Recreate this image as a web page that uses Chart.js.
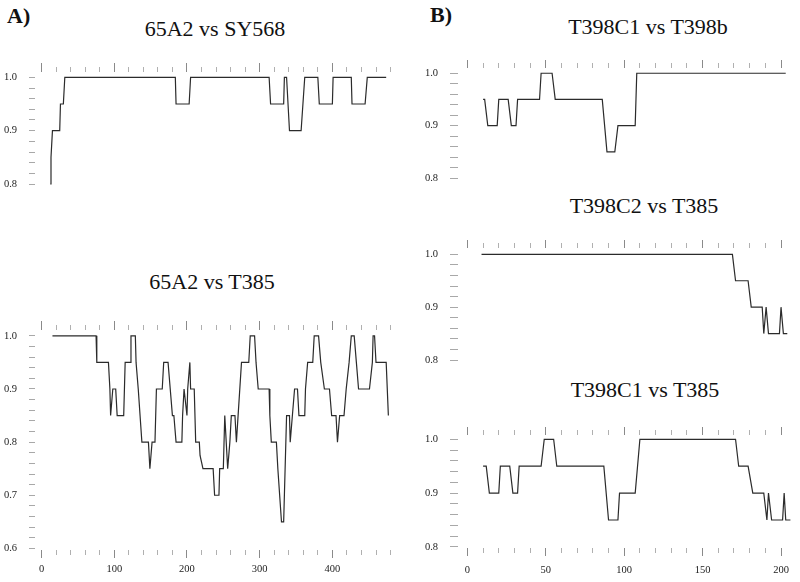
<!DOCTYPE html>
<html>
<head>
<meta charset="utf-8">
<script src="https://cdn.jsdelivr.net/npm/chart.js@4/dist/chart.umd.min.js"></script>
<style>
    html, body { margin: 0; padding: 0; background: #fff; }
    #page { position: relative; width: 800px; height: 582px; overflow: hidden; font-family: "Liberation Serif", serif; color: #111; }
    canvas { position: absolute; }
    .title { position: absolute; font-size: 22px; line-height: 22px; white-space: nowrap; transform: translateX(-50%); }
    .tag { position: absolute; font-size: 22px; line-height: 22px; font-weight: bold; }
</style>
</head>
<body>
<div id="page">
    <div class="tag" style="left:7px; top:5px">A)</div>
    <div class="tag" style="left:430px; top:4px">B)</div>
    <div class="title" style="left:215px; top:18px">65A2 vs SY568</div>
    <div class="title" style="left:212px; top:271px">65A2 vs T385</div>
    <div class="title" style="left:648px; top:16px">T398C1 vs T398b</div>
    <div class="title" style="left:644px; top:195px">T398C2 vs T385</div>
    <div class="title" style="left:645px; top:379px">T398C1 vs T385</div>
    <canvas id="a1"></canvas>
    <canvas id="a2"></canvas>
    <canvas id="b1"></canvas>
    <canvas id="b2"></canvas>
    <canvas id="b3"></canvas>
</div>
<script>
// 65A2 vs SY568 (position, identity)
const a1X = [12, 13, 15, 25, 26, 30, 32, 184, 185, 203, 205, 313, 315, 333, 334, 337, 341, 357, 362, 380, 382, 400, 401, 426, 427, 445, 448, 474];
const a1Y = [0.80, 0.85, 0.90, 0.90, 0.95, 0.95, 1.00, 1.00, 0.95, 0.95, 1.00, 1.00, 0.95, 0.95, 1.00, 1.00, 0.90, 0.90, 1.00, 1.00, 0.95, 0.95, 1.00, 1.00, 0.95, 0.95, 1.00, 1.00];

// 65A2 vs T385
const a2X = [15, 75, 76, 92, 94, 95, 98, 102, 104, 113, 115, 122, 123, 129, 130, 133, 138, 147, 149, 152,
    156, 158, 166, 168, 174, 177, 180, 182, 185, 193, 194, 196, 200, 201, 204, 205, 210, 212, 217, 218,
    222, 236, 238, 244, 245, 250, 252, 254, 256, 259, 261, 266, 268, 275, 285, 287, 293, 295, 298, 313,
    314, 316, 323, 325, 330, 333, 337, 341, 342, 345, 348, 352, 354, 362, 363, 366, 373, 375, 381, 384,
    389, 396, 399, 405, 407, 410, 416, 419, 423, 426, 430, 433, 436, 451, 455, 456, 458, 460, 474, 477];
const a2Y = [1.00, 1.00, 0.95, 0.95, 0.90, 0.85, 0.90, 0.90, 0.85, 0.85, 0.95, 0.95, 1.00, 1.00, 0.95, 0.90, 0.80, 0.80, 0.75, 0.80,
    0.80, 0.90, 0.90, 0.95, 0.95, 0.90, 0.85, 0.85, 0.80, 0.80, 0.85, 0.90, 0.85, 0.90, 0.95, 0.90, 0.90, 0.80, 0.80, 0.775,
    0.75, 0.75, 0.70, 0.70, 0.75, 0.75, 0.85, 0.80, 0.75, 0.80, 0.85, 0.85, 0.80, 0.95, 0.95, 1.00, 1.00, 0.95, 0.90, 0.90,
    0.85, 0.80, 0.80, 0.75, 0.65, 0.65, 0.85, 0.85, 0.80, 0.85, 0.90, 0.90, 0.85, 0.85, 0.90, 0.95, 0.95, 1.00, 1.00, 0.95,
    0.90, 0.90, 0.85, 0.85, 0.80, 0.85, 0.85, 0.90, 0.95, 1.00, 1.00, 0.95, 0.90, 0.90, 0.95, 1.00, 1.00, 0.95, 0.95, 0.85];

// T398C1 vs T398b
const b1X = [10, 11, 13, 19, 20, 26, 28, 31, 32, 46, 47, 54, 56, 86, 89, 94, 96, 107, 108, 203];
const b1Y = [0.95, 0.95, 0.90, 0.90, 0.95, 0.95, 0.90, 0.90, 0.95, 0.95, 1.00, 1.00, 0.95, 0.95, 0.85, 0.85, 0.90, 0.90, 1.00, 1.00];

// T398C2 vs T385
const b2X = [9, 169, 171, 179, 181, 188, 189, 190.5, 192, 199, 200, 201.5, 204];
const b2Y = [1.00, 1.00, 0.95, 0.95, 0.90, 0.90, 0.85, 0.90, 0.85, 0.85, 0.90, 0.85, 0.85];

// T398C1 vs T385
const b3X = [10, 12, 14, 20, 21, 27, 29, 32, 33, 47, 49, 55, 57, 87, 90, 96, 97, 107, 110, 171, 173, 179, 182, 189, 191, 192, 194, 201, 202, 203, 206];
const b3Y = [0.95, 0.95, 0.90, 0.90, 0.95, 0.95, 0.90, 0.90, 0.95, 0.95, 1.00, 1.00, 0.95, 0.95, 0.85, 0.85, 0.90, 0.90, 1.00, 1.00, 0.95, 0.95, 0.90, 0.90, 0.85, 0.90, 0.85, 0.85, 0.90, 0.85, 0.85];

// Tick labels
const aXLabels = [0, 100, 200, 300, 400];
const bXLabels = [0, 50, 100, 150, 200];
const yLabelsLong = [0.6, 0.7, 0.8, 0.9, 1.0];
const yLabelsShort = [0.8, 0.9, 1.0];

const tickFont = { family: "'Liberation Serif', 'Times New Roman', serif", size: 10.5 };

// Builds a list of tick objects from..to with a fixed step
function makeTicks(from, to, step) {
    const out = [];
    for (let v = from; v <= to + 1e-9; v += step) out.push({ value: Math.round(v * 1000) / 1000 });
    return out;
}

function isOn(v, list) {
    return list.some(l => Math.abs(l - v) < 1e-6);
}

// Forces an axis to a fixed thickness so the plot area lands where we want it
function fixSize(size) {
    return scale => {
        if (scale.isHorizontal()) scale.height = size; else scale.width = size;
        scale.paddingLeft = scale.paddingRight = scale.paddingTop = scale.paddingBottom = 0;
    };
}

function xAxis(p, position) {
    const isMajor = ctx => ctx.tick && Math.abs(ctx.tick.value % p.xMajor) < 1e-6;
    const top = position === "top";
    const tl = top ? p.topTick : 8;
    return {
        type: "linear", position: position, bounds: "data",
        min: p.xRange[0], max: p.xRange[1],
        afterBuildTicks: s => { s.ticks = makeTicks(0, p.xEnd, p.xStep); },
        afterFit: fixSize(top ? 12 : 26),
        border: { display: false },
        grid: {
            drawOnChartArea: false, tickLength: tl,
            tickColor: ctx => isMajor(ctx) ? "#8a8a8a" : "#b0b0b0",
            tickBorderDash: ctx => isMajor(ctx) ? [] : (top ? [0, tl - 5, 5, 100] : [5, 100])
        },
        ticks: top ? { display: false } : {
            autoSkip: false, maxRotation: 0, padding: p.xPad, font: tickFont, color: "#222",
            callback: v => isOn(v, p.xLabels) ? String(v) : ""
        }
    };
}

function renderPanel(p) {
    const topH = 12;
    const botH = p.xLabels ? 26 : 0;
    const padB = p.xLabels ? 0 : 8;
    const canvas = document.getElementById(p.id);
    canvas.width = p.area.r - p.left + 4;
    canvas.height = p.area.b - p.area.t + topH + botH + padB;
    canvas.style.left = p.left + "px";
    canvas.style.top = (p.area.t - topH) + "px";

    const scales = {
        x: xAxis(p, "top"),
        y: {
            type: "linear", position: "left", bounds: "data",
            min: p.yRange[0], max: p.yRange[1],
            afterBuildTicks: s => { s.ticks = makeTicks(p.yLabels[0], 1.0, 0.02); },
            afterFit: fixSize(p.area.l - p.left),
            border: { display: false },
            grid: { drawOnChartArea: false, tickLength: p.yTick, tickColor: "#a8a8a8" },
            ticks: {
                autoSkip: false, padding: 12, font: tickFont, color: "#222",
                callback: v => isOn(v, p.yLabels) ? v.toFixed(1) : ""
            }
        }
    };
    if (p.xLabels) scales.xb = xAxis(p, "bottom");

    new Chart(canvas, {
        type: "line",
        data: {
            datasets: [{
                data: p.xs.map((x, i) => ({ x: x, y: p.ys[i] })),
                borderColor: "#2b2b2b",
                borderWidth: 1.2,
                pointRadius: 0,
                tension: 0,
                fill: false,
                clip: false
            }]
        },
        options: {
            responsive: false,
            animation: false,
            events: [],
            layout: { padding: { left: 0, top: 0, right: 4, bottom: padB } },
            plugins: { legend: { display: false }, tooltip: { enabled: false } },
            scales: scales
        }
    });
}

const aPanel = { left: 0, xRange: [-9, 482], xEnd: 480, xStep: 20, xMajor: 100, topTick: 9, yTick: 6 };
const bPanel = { left: 400, xRange: [-6, 207], xEnd: 200, xStep: 10, xMajor: 50, topTick: 8, yTick: 8 };

renderPanel({ ...aPanel, id: "a1", xs: a1X, ys: a1Y, area: { l: 35, t: 72, r: 392, b: 184 }, yRange: [0.8, 1.01], yLabels: yLabelsShort });
renderPanel({ ...aPanel, id: "a2", xs: a2X, ys: a2Y, area: { l: 35, t: 330, r: 392, b: 550 }, yRange: [0.597, 1.011], yLabels: yLabelsLong, xLabels: aXLabels, xPad: 5 });
renderPanel({ ...bPanel, id: "b1", xs: b1X, ys: b1Y, area: { l: 458, t: 68, r: 792, b: 178 }, yRange: [0.8, 1.01], yLabels: yLabelsShort });
renderPanel({ ...bPanel, id: "b2", xs: b2X, ys: b2Y, area: { l: 458, t: 248, r: 792, b: 360 }, yRange: [0.8, 1.012], yLabels: yLabelsShort });
renderPanel({ ...bPanel, id: "b3", xs: b3X, ys: b3Y, area: { l: 458, t: 435, r: 792, b: 548 }, yRange: [0.798, 1.008], yLabels: yLabelsShort, xLabels: bXLabels, xPad: 8 });
</script>
</body>
</html>
